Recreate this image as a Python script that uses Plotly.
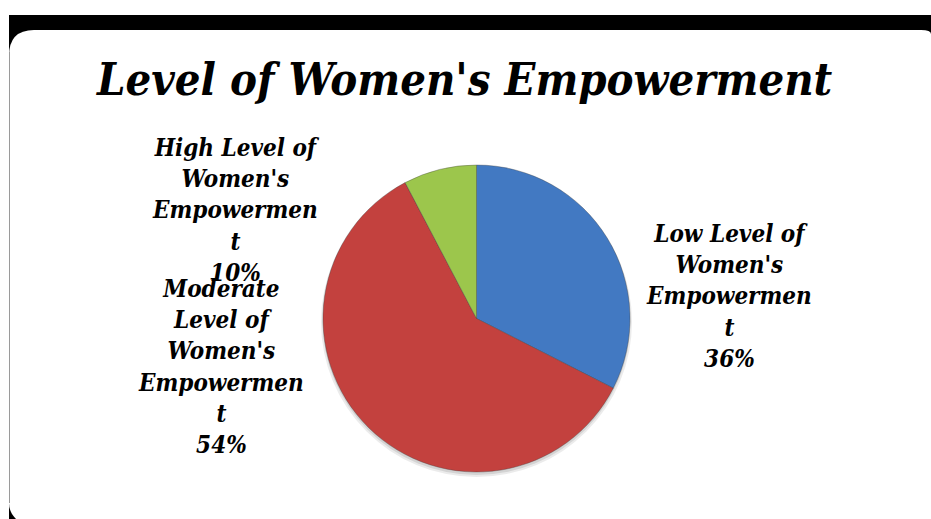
import plotly.graph_objects as go

W, H = 931, 519

# ---- data ----
categories = ["Low Level of Women's Empowerment",
              "Moderate Level of Women's Empowerment",
              "High Level of Women's Empowerment"]
slice_values = [32.5, 59.8, 7.7]          # slice sizes as drawn
shown_percent = ["36%", "54%", "10%"]      # percentages printed on the labels
label_lines = [["Low Level of", "Women's", "Empowermen", "t"],
               ["Moderate", "Level of", "Women's", "Empowermen", "t"],
               ["High Level of", "Women's", "Empowermen", "t"]]
title_text = "Level of Women's Empowerment"

colors = ["#4279C2", "#C3413E", "#9CC64C"]
FONT = "DejaVu Serif Condensed, DejaVu Serif, serif"

def px(x):
    return x / W

def py(y):
    return 1 - y / H

def P(x, y):
    return f"{px(x):.5f},{py(y):.5f}"

fig = go.Figure()

cx, cy, r = 476.5, 318.5, 153.5
fig.add_trace(go.Pie(
    labels=categories,
    values=slice_values,
    sort=False,
    direction="clockwise",
    rotation=0,
    marker=dict(colors=colors, line=dict(color="rgba(60,60,60,0.35)", width=1)),
    textinfo="none",
    hoverinfo="label+value",
    showlegend=False,
    domain=dict(x=[px(cx - r), px(cx + r)], y=[py(cy + r), py(cy - r)]),
))

shapes = []
# black band / backdrop
shapes.append(dict(type="rect", xref="paper", yref="paper", layer="below",
                   x0=px(9), x1=1, y0=py(519), y1=py(15),
                   fillcolor="black", line=dict(width=0)))
# white rounded panel
path = ("M " + P(9, 56) + " Q " + P(9, 30) + " " + P(34, 30) +
        " L " + P(921, 30) + " Q " + P(931, 30) + " " + P(931, 34) +
        " L " + P(931, 519) + " L " + P(16, 519) +
        " Q " + P(9, 512) + " " + P(9, 503) + " Z")
shapes.append(dict(type="path", xref="paper", yref="paper", layer="below",
                   path=path, fillcolor="white", line=dict(width=0)))
# grey left edge
shapes.append(dict(type="line", xref="paper", yref="paper", layer="below",
                   x0=px(9.5), x1=px(9.5), y0=py(52), y1=py(503),
                   line=dict(color="#9a9a9a", width=1)))
# soft shadow under the pie
shapes.append(dict(type="circle", xref="paper", yref="paper", layer="below",
                   x0=px(cx - r - 2), x1=px(cx + r + 2), y0=py(cy + r + 5), y1=py(cy - r + 2),
                   fillcolor="rgba(0,0,0,0.08)", line=dict(width=0)))
shapes.append(dict(type="circle", xref="paper", yref="paper", layer="below",
                   x0=px(cx - r - 0.5), x1=px(cx + r + 0.5), y0=py(cy + r + 3), y1=py(cy - r + 1),
                   fillcolor="rgba(0,0,0,0.10)", line=dict(width=0)))

annotations = []
annotations.append(dict(text=f"<b><i>{title_text}</i></b>", xref="paper", yref="paper",
                        x=px(464), y=py(80), xanchor="center", yanchor="middle",
                        showarrow=False, font=dict(family=FONT, size=45, color="black")))

label_pos = [(729, 296), (221, 366), (236, 210)]
for lines, pct, (lx, ly) in zip(label_lines, shown_percent, label_pos):
    txt = "<br>".join(lines + [pct])
    annotations.append(dict(text=f"<b><i>{txt}</i></b>", xref="paper", yref="paper",
                            x=px(lx), y=py(ly), xanchor="center", yanchor="middle",
                            align="center", showarrow=False,
                            font=dict(family=FONT, size=24, color="black")))

fig.update_layout(
    width=W, height=H,
    margin=dict(l=0, r=0, t=0, b=0),
    paper_bgcolor="white",
    plot_bgcolor="white",
    shapes=shapes,
    annotations=annotations,
)

fig.write_html("out.html")
